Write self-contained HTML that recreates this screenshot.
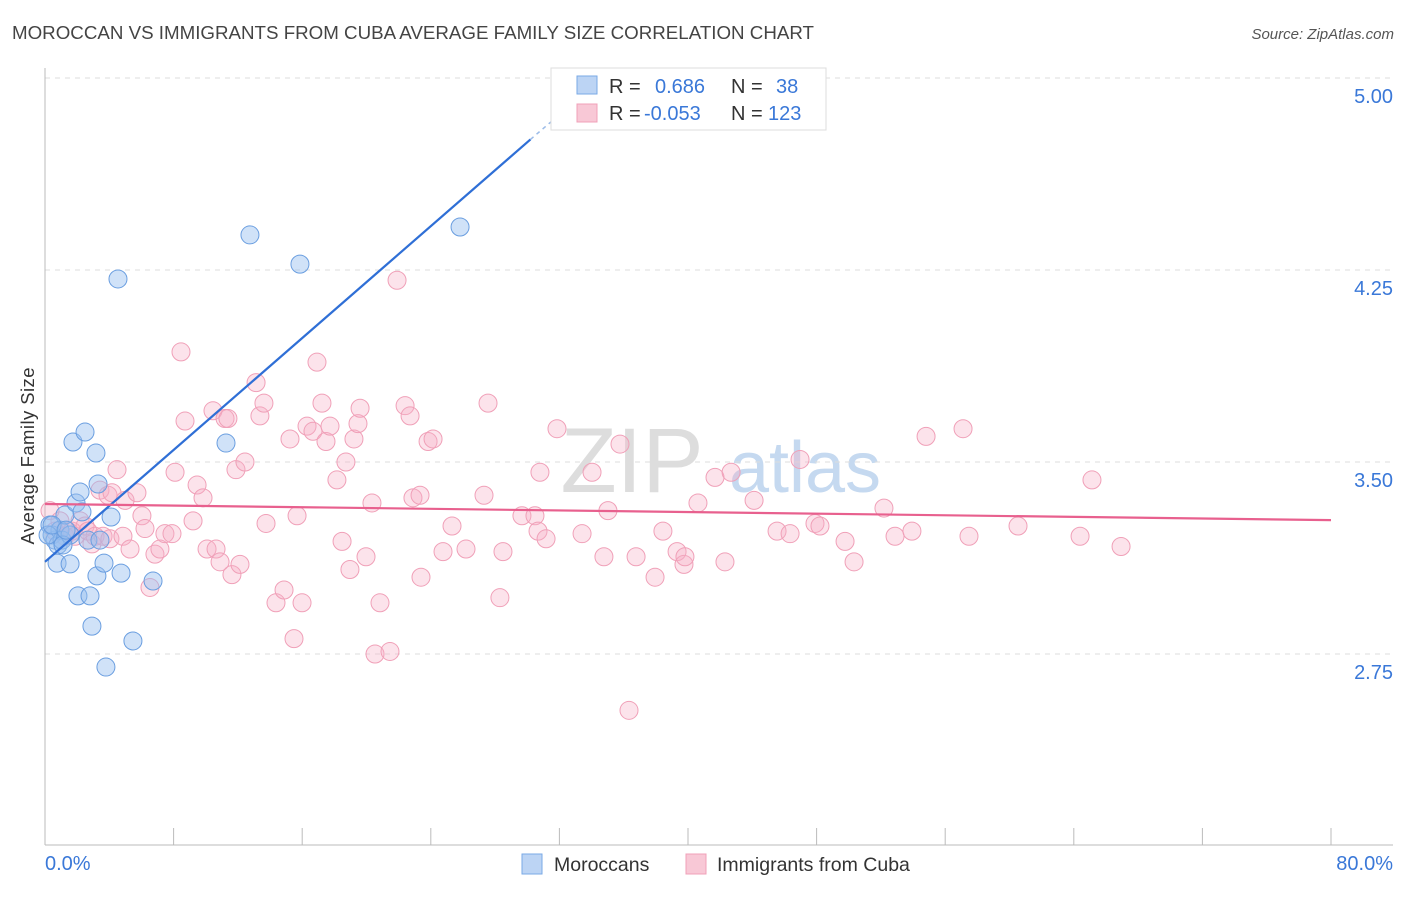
<!DOCTYPE html>
<html><head><meta charset="utf-8"><style>
body{margin:0;background:#fff;font-family:"Liberation Sans",sans-serif}
svg text{font-family:"Liberation Sans",sans-serif}
</style></head><body>
<svg id="chart" width="1406" height="892">
<text x="12" y="39" font-size="18" fill="#444" textLength="802" lengthAdjust="spacingAndGlyphs">MOROCCAN VS IMMIGRANTS FROM CUBA AVERAGE FAMILY SIZE CORRELATION CHART</text>
<text x="1394" y="39" font-size="15" fill="#555" font-style="italic" text-anchor="end">Source: ZipAtlas.com</text>
<g><text x="632" y="492" font-size="92" fill="#ddd" font-family="Liberation Serif" text-anchor="middle">ZIP</text><text x="805" y="492" font-size="72" fill="#c5d9f0" text-anchor="middle">atlas</text></g>
<g id="grid"></g><g id="axes"></g><g id="pts"></g><g id="lines"></g>
<text transform="translate(34,456) rotate(-90)" font-size="18.5" fill="#333" text-anchor="middle" textLength="177">Average Family Size</text>
<g>
<rect x="551" y="68" width="275" height="62" fill="#fff" stroke="#ddd"/>
<rect x="577" y="76" width="20" height="18" fill="#bcd4f4" stroke="#7aaae6"/>
<rect x="577" y="104" width="20" height="18" fill="#f8c8d6" stroke="#f0a0b8"/>
<text x="609" y="93" font-size="20" fill="#333">R = <tspan fill="#3a78d8" x="655">0.686</tspan><tspan x="731" fill="#333">N = </tspan><tspan fill="#3a78d8" x="776">38</tspan></text>
<text x="609" y="120" font-size="20" fill="#333">R = <tspan fill="#3a78d8" x="644">-0.053</tspan><tspan x="731" fill="#333">N = </tspan><tspan fill="#3a78d8" x="768">123</tspan></text>
</g>
<g>
<rect x="522" y="854" width="20" height="20" fill="#bcd4f4" stroke="#7aaae6"/>
<text x="554" y="871" font-size="19.5" fill="#333">Moroccans</text>
<rect x="686" y="854" width="20" height="20" fill="#f8c8d6" stroke="#f0a0b8"/>
<text x="717" y="871" font-size="19.5" fill="#333">Immigrants from Cuba</text>
</g>
</svg>
<script>
const yTicks=[2.75,3.5,4.25,5.0];
const yTickLabels=["2.75","3.50","4.25","5.00"];
const xTicks=[0,8,16,24,32,40,48,56,64,72,80];
const blueX=[.31,.44,.62,.81,.93,1.06,1.24,1.56,.75,1.56,1.74,2.05,1.93,2.18,2.30,2.49,2.67,2.80,2.92,3.17,3.30,3.23,3.42,3.67,3.79,4.11,4.54,4.73,5.47,6.72,11.26,12.75,15.86,25.82,.19,.44,1.12,1.31];
const blueY=[3.254,3.215,3.195,3.176,3.234,3.195,3.293,3.215,3.105,3.102,3.578,2.977,3.34,3.383,3.305,3.617,3.195,2.977,2.859,3.535,3.414,3.055,3.195,3.105,2.699,3.285,4.215,3.066,2.801,3.035,3.574,4.387,4.273,4.418,3.215,3.254,3.176,3.234];
const pinkX=[.31,.62,.93,1.24,1.43,1.68,1.87,2.18,2.49,2.67,2.92,3.11,3.42,3.61,3.92,4.04,4.17,4.48,4.85,4.98,5.29,5.72,6.03,6.22,6.53,6.84,7.15,7.46,7.90,8.09,8.46,8.71,9.21,9.46,9.83,10.08,10.45,10.64,10.89,11.20,11.38,11.63,11.88,12.13,12.44,13.13,13.37,13.62,13.75,14.37,14.87,15.24,15.49,15.68,15.99,16.30,16.67,16.92,17.23,17.48,17.73,18.16,18.48,18.72,18.97,19.22,19.47,19.60,19.97,20.34,20.53,20.84,21.46,21.90,22.40,22.71,22.89,23.33,23.39,23.83,24.14,24.76,25.32,26.19,27.31,27.56,28.30,28.49,29.67,30.48,30.67,30.79,31.17,31.85,33.41,34.03,34.77,35.02,35.77,36.33,36.77,37.95,38.44,39.32,39.75,39.81,40.62,41.68,42.30,42.68,44.11,45.54,46.35,46.97,47.90,48.21,49.77,50.33,52.19,52.88,53.93,54.81,57.11,57.48,60.53,64.39,65.13,66.94];
const pinkY=[3.31,3.23,3.27,3.21,3.23,3.23,3.21,3.27,3.25,3.23,3.18,3.21,3.39,3.21,3.37,3.20,3.38,3.47,3.21,3.35,3.16,3.38,3.29,3.24,3.01,3.14,3.16,3.22,3.22,3.46,3.93,3.66,3.27,3.41,3.36,3.16,3.70,3.16,3.11,3.67,3.67,3.06,3.47,3.10,3.50,3.81,3.68,3.73,3.26,2.95,3.00,3.59,2.81,3.29,2.95,3.64,3.62,3.89,3.73,3.58,3.64,3.43,3.19,3.50,3.08,3.59,3.65,3.71,3.13,3.34,2.75,2.95,2.76,4.21,3.72,3.68,3.36,3.37,3.05,3.58,3.59,3.15,3.25,3.16,3.37,3.73,2.97,3.15,3.29,3.29,3.23,3.46,3.20,3.63,3.22,3.46,3.13,3.31,3.57,2.53,3.13,3.05,3.23,3.15,3.10,3.13,3.34,3.44,3.11,3.46,3.35,3.23,3.22,3.51,3.26,3.25,3.19,3.11,3.32,3.21,3.23,3.60,3.63,3.21,3.25,3.21,3.43,3.17];
const blueLine=[[0,3.11],[30.2,4.76],[31.5,4.83]];
const pinkLine=[[0,3.336],[80,3.273]];
const X=v=>45+v*16.075, Y=v=>462-(v-3.5)*256;
const NS="http://www.w3.org/2000/svg";
function mk(t,p,a){const e=document.createElementNS(NS,t);for(const k in a)e.setAttribute(k,a[k]);p.appendChild(e);return e;}
const grid=document.getElementById('grid'),axes=document.getElementById('axes'),pts=document.getElementById('pts'),lines=document.getElementById('lines');
yTicks.forEach((t,i)=>{
 const l=mk('line',grid,{x1:45,x2:1393,y1:Y(t),y2:Y(t),stroke:'#ddd','stroke-dasharray':'5,5'});
 
 
 const tx=mk('text',axes,{x:1393,y:Y(t)+25,'font-size':20,fill:'#3a78d8','text-anchor':'end'});tx.textContent=yTickLabels[i];
 
 
});
const ax=mk('line',axes,{x1:45,x2:45,y1:68,y2:845,stroke:'#bbb'});


const bx=mk('line',axes,{x1:45,x2:1393,y1:845,y2:845,stroke:'#bbb'});


xTicks.forEach(t=>{const l=mk('line',axes,{x1:X(t),x2:X(t),y1:828,y2:845,stroke:'#bbb'});
 
 });
[[0,'0.0%','start',45],[80,'80.0%','end',1393]].forEach(([v,s,a,x])=>{const t=mk('text',axes,{x:x,y:870,'font-size':20,fill:'#3a78d8','text-anchor':a});t.textContent=s;
 
 });
pinkX.forEach((x,i)=>{const c=mk('circle',pts,{cx:X(x),cy:Y(pinkY[i]),r:9,fill:'rgba(245,175,198,0.35)',stroke:'#f0a0b8','stroke-width':1});
 
 });
blueX.forEach((x,i)=>{const c=mk('circle',pts,{cx:X(x),cy:Y(blueY[i]),r:9,fill:'rgba(150,190,240,0.45)',stroke:'#6a9ee0','stroke-width':1});
 
 });
const bl=mk('line',lines,{x1:X(blueLine[0][0]),y1:Y(blueLine[0][1]),x2:X(blueLine[1][0]),y2:Y(blueLine[1][1]),stroke:'#2f6fd6','stroke-width':2.2});


const bd=mk('line',lines,{x1:X(blueLine[1][0]),y1:Y(blueLine[1][1]),x2:X(blueLine[2][0]),y2:Y(blueLine[2][1]),stroke:'#9bbbe8','stroke-width':1.5,'stroke-dasharray':'4,4'});


const pl=mk('line',lines,{x1:X(pinkLine[0][0]),y1:Y(pinkLine[0][1]),x2:X(pinkLine[1][0]),y2:Y(pinkLine[1][1]),stroke:'#e8608e','stroke-width':2.2});


</script>
</body></html>
